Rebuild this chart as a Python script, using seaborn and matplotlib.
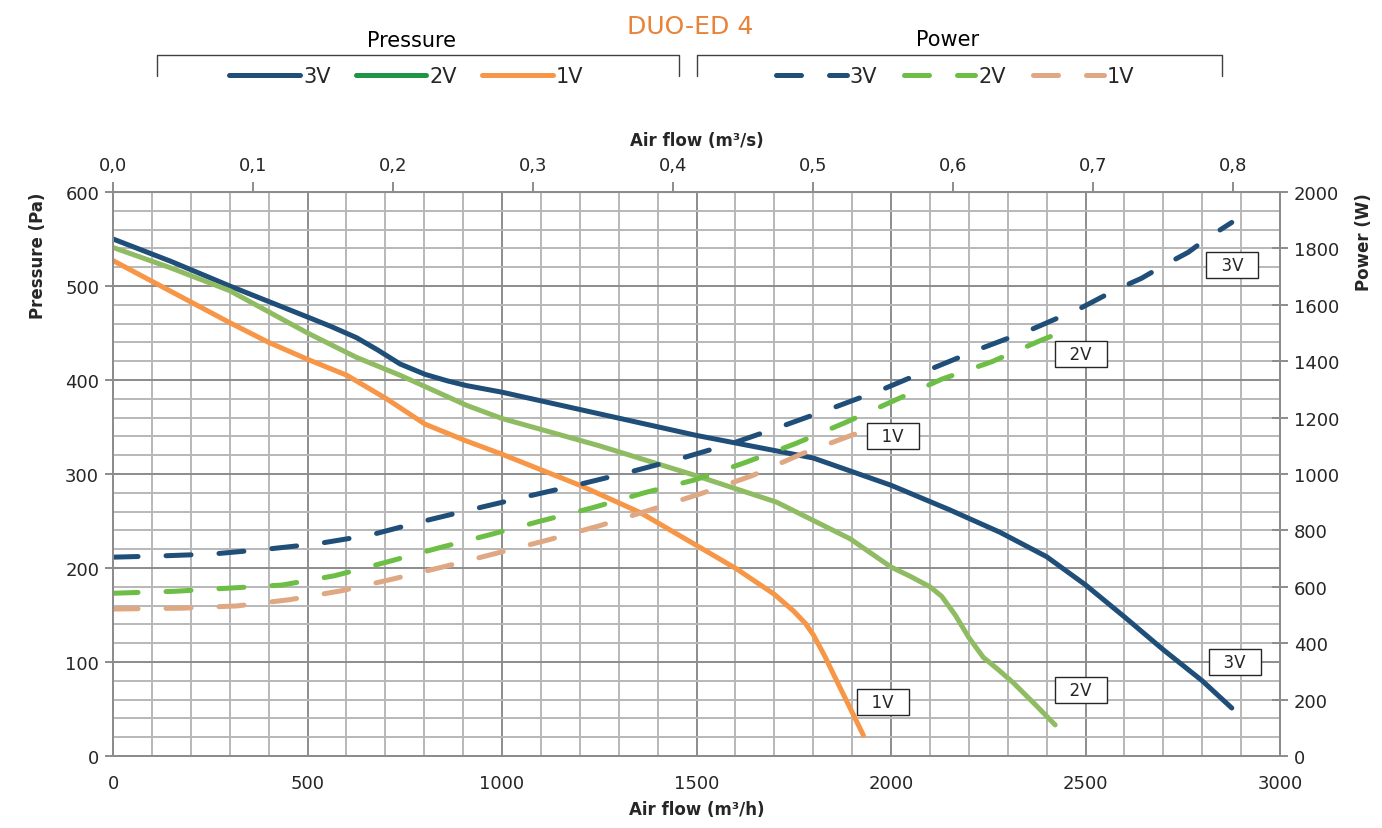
import matplotlib
matplotlib.use("Agg")
from matplotlib import pyplot as plt
from matplotlib.lines import Line2D
from matplotlib.ticker import FixedLocator, FuncFormatter
import pandas as pd
import seaborn as sns

# pressure curves (air flow m3/h -> Pa)
p3_flow = [0, 150, 300, 500, 560, 626, 680, 738, 802, 860, 909, 1000, 1250, 1500, 1800, 2000,
           2150, 2280, 2400, 2500, 2600, 2700, 2800, 2876]
p3_pa = [550, 526, 500, 467, 457, 445, 432, 417, 406, 399, 394, 387, 364, 341, 317, 288,
         262, 238, 212, 182, 148, 113, 80, 51]
p2_flow = [0, 150, 300, 500, 626, 738, 909, 1000, 1250, 1500, 1706, 1895, 2000, 2050, 2100,
           2130, 2165, 2200, 2237, 2275, 2314, 2370, 2422]
p2_pa = [541, 519, 495, 450, 424, 405, 373, 359, 330, 298, 270, 231, 201, 191, 180,
         170, 150, 126, 105, 92, 78, 55, 33]
p1_flow = [0, 150, 300, 400, 500, 601, 703, 802, 909, 1000, 1200, 1355, 1500, 1603, 1700,
           1750, 1780, 1800, 1830, 1852, 1890, 1929]
p1_pa = [527, 494, 461, 440, 422, 405, 380, 353, 335, 321, 288, 259, 224, 199, 172,
         154, 141, 129, 106, 87, 55, 22]

# power curves (air flow m3/h -> W)
w3_flow = [0, 115, 255, 393, 527, 663, 796, 928, 1063, 1196, 1329, 1462, 1595, 1723, 1852,
           1980, 2109, 2233, 2362, 2490, 2576, 2644, 2700, 2764, 2816, 2876]
w3_w = [705, 709, 716, 733, 753, 784, 832, 876, 920, 962, 1007, 1056, 1110, 1171, 1235,
        1301, 1376, 1446, 1513, 1590, 1652, 1694, 1739, 1786, 1839, 1892]
w2_flow = [0, 159, 296, 434, 569, 702, 835, 967, 1099, 1232, 1365, 1498, 1626, 1755, 1882,
           2006, 2130, 2259, 2387, 2422]
w2_w = [577, 584, 595, 606, 639, 687, 737, 784, 833, 880, 933, 980, 1041, 1108, 1182,
        1259, 1336, 1398, 1475, 1494]
w1_flow = [0, 179, 318, 453, 588, 721, 856, 989, 1121, 1252, 1382, 1515, 1643, 1770, 1896, 1933]
w1_w = [521, 524, 532, 554, 586, 628, 673, 720, 767, 817, 873, 932, 994, 1071, 1136, 1154]

speeds = ["3V", "2V", "1V"]
c_press = {"3V": "#1F4E79", "2V": "#8FBC62", "1V": "#F79646"}
c_press_leg = {"3V": "#1F4E79", "2V": "#1E9444", "1V": "#F79646"}
c_power = {"3V": "#1F4E79", "2V": "#6CBE45", "1V": "#DFA882"}

press = pd.concat([
    pd.DataFrame({"flow": p3_flow, "val": p3_pa, "speed": "3V"}),
    pd.DataFrame({"flow": p2_flow, "val": p2_pa, "speed": "2V"}),
    pd.DataFrame({"flow": p1_flow, "val": p1_pa, "speed": "1V"}),
])
power = pd.concat([
    pd.DataFrame({"flow": w3_flow, "val": w3_w, "speed": "3V"}),
    pd.DataFrame({"flow": w2_flow, "val": w2_w, "speed": "2V"}),
    pd.DataFrame({"flow": w1_flow, "val": w1_w, "speed": "1V"}),
])

sns.set_style("white")
plt.rcParams["font.family"] = ["DejaVu Sans"]
txt = "#262626"
gcol = "#8C8C8C"

fig = plt.figure(figsize=(13.82, 8.29), dpi=100)
ax = fig.add_axes([0.0818, 0.0869, 0.8444, 0.6803])
ax2 = ax.twinx()

dash = (0, (5, 5.6))
for s in speeds:
    sns.lineplot(data=press[press.speed == s], x="flow", y="val", ax=ax, sort=False,
                 color=c_press[s], lw=3.6, legend=False, estimator=None,
                 solid_capstyle="round", solid_joinstyle="round")
    sns.lineplot(data=power[power.speed == s], x="flow", y="val", ax=ax2, sort=False,
                 color=c_power[s], lw=3.6, legend=False, estimator=None,
                 linestyle=dash, dash_capstyle="round", dash_joinstyle="round")

ax.set_xlim(0, 3000)
ax.set_ylim(0, 600)
ax2.set_ylim(0, 2000)
ax.xaxis.set_major_locator(FixedLocator(range(0, 3001, 500)))
ax.xaxis.set_minor_locator(FixedLocator(range(0, 3001, 100)))
ax.yaxis.set_major_locator(FixedLocator(range(0, 601, 100)))
ax.yaxis.set_minor_locator(FixedLocator(range(0, 601, 20)))
ax2.yaxis.set_major_locator(FixedLocator(range(0, 2001, 200)))
ax.grid(which="major", color=gcol, lw=1.4)
ax.grid(which="minor", color="#B8B8B8", lw=1.4)
ax.set_axisbelow(True)
for a in (ax, ax2):
    for sp in a.spines.values():
        sp.set_color(gcol)
        sp.set_linewidth(1.4)

ax.tick_params(axis="x", which="major", direction="out", length=7, width=1.4,
               color=gcol, labelsize=13, labelcolor=txt, pad=6)
ax.tick_params(axis="y", which="major", direction="inout", length=12, width=1.4,
               color=gcol, labelsize=13, labelcolor=txt, pad=4)
ax.tick_params(which="minor", length=0)
ax2.tick_params(axis="y", which="major", direction="inout", length=12, width=1.4,
                color=gcol, labelsize=13, labelcolor=txt, pad=4)

top = ax.secondary_xaxis("top", functions=(lambda x: x / 3600, lambda x: x * 3600))
top.xaxis.set_major_locator(FixedLocator([i / 10 for i in range(9)]))
top.xaxis.set_major_formatter(FuncFormatter(lambda v, p: f"{v:.1f}".replace(".", ",")))
top.tick_params(direction="out", length=7, width=1.4, color=gcol,
                labelsize=13, labelcolor=txt, pad=6)
top.spines["top"].set_color(gcol)
top.set_xlabel("Air flow (m³/s)", fontsize=12, fontweight="bold", color=txt, labelpad=8)

ax.set_xlabel("Air flow (m³/h)", fontsize=12, fontweight="bold", color=txt, labelpad=6)
ax.set_ylabel("Pressure (Pa)", fontsize=12, fontweight="bold", color=txt, loc="top")
ax2.set_ylabel("Power (W)", fontsize=12, fontweight="bold", color=txt, loc="top")
ax.yaxis.set_label_coords(-0.057, 1.0)
ax2.yaxis.set_label_coords(1.064, 1.0)

# curve labels
box = dict(boxstyle="square,pad=0.25", fc="white", ec="#262626", lw=1)
labels = [("3V", 2877, 1741), ("2V", 2488, 1426), ("1V", 2005, 1135),
          ("3V", 2884, 333), ("2V", 2488, 234), ("1V", 1979, 191)]
for t, x, y in labels:
    ax2.text(x, y, f"  {t}  ", fontsize=12, color=txt, ha="center", va="center",
             bbox=box, zorder=10)

# header: title, legends, brackets
fig.text(0.4993, 0.967, "DUO-ED 4", fontsize=18, color="#E8833A", ha="center", va="center")
fig.text(0.2974, 0.950, "Pressure", fontsize=15, color="black", ha="center", va="center")
fig.text(0.686, 0.952, "Power", fontsize=15, color="black", ha="center", va="center")

for x0, x1 in [(157, 679), (697, 1222)]:
    xs = [x0 / 1382, x0 / 1382, x1 / 1382, x1 / 1382]
    ys = [1 - 77 / 829, 1 - 56 / 829, 1 - 56 / 829, 1 - 77 / 829]
    fig.add_artist(Line2D(xs, ys, color="#404040", lw=1))

h_press = [Line2D([], [], color=c_press_leg[s], lw=3.6, solid_capstyle="round") for s in speeds]
h_power = [Line2D([], [], color=c_power[s], lw=3.6, linestyle=dash, dash_capstyle="round")
           for s in speeds]
fig.legend(h_press, speeds, loc="center", bbox_to_anchor=(0.294, 0.907), ncol=3,
           frameon=False, fontsize=15, handlelength=3.4, handletextpad=0.15,
           columnspacing=1.2)
fig.legend(h_power, speeds, loc="center", bbox_to_anchor=(0.691, 0.907), ncol=3,
           frameon=False, fontsize=15, handlelength=3.4, handletextpad=0.15,
           columnspacing=1.3)

fig.savefig("out.png", dpi=100)
